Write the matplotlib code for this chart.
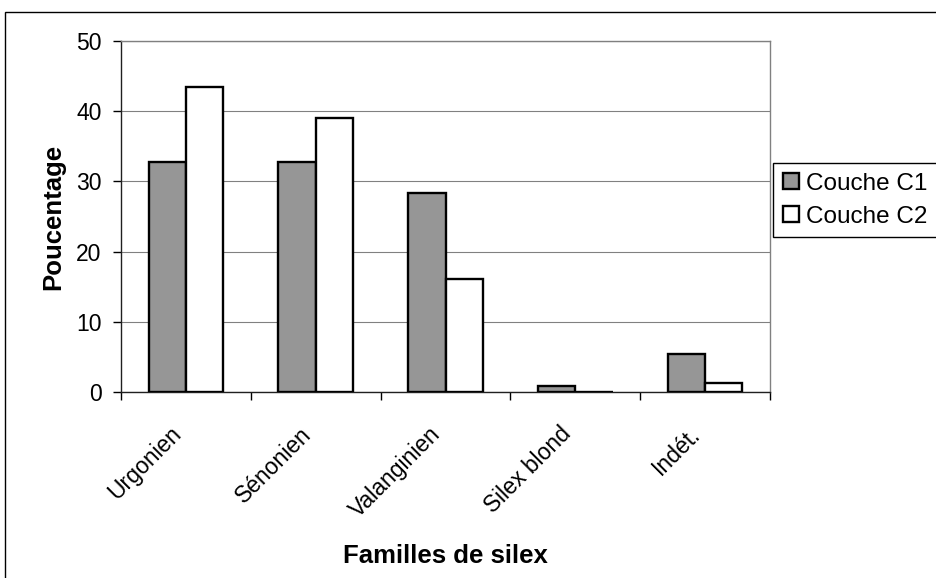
import matplotlib.pyplot as plt
import numpy as np
from matplotlib.patches import Rectangle

plt.rcParams['font.family'] = ['Liberation Sans', 'DejaVu Sans']

categories = ["Urgonien", "Sénonien", "Valanginien", "Silex blond", "Indét."]
couche_c1 = [32.7, 32.7, 28.3, 0.9, 5.4]
couche_c2 = [43.5, 39.1, 16.1, 0.0, 1.3]
series_names = ["Couche C1", "Couche C2"]
y_ticks = [0, 10, 20, 30, 40, 50]

W, H = 936, 578
fig = plt.figure(figsize=(W / 100, H / 100), dpi=100)
ax = fig.add_axes([121 / W, 1 - 392 / H, (770 - 121) / W, (392 - 41) / H])

x = np.arange(len(categories))
bw = 0.288
ax.bar(x - bw / 2, couche_c1, bw, color="#969696", edgecolor="black",
       linewidth=1.7, label=series_names[0], zorder=3)
ax.bar(x + bw / 2, couche_c2, bw, color="white", edgecolor="black",
       linewidth=1.7, label=series_names[1], zorder=3)

ax.set_xlim(-0.5, len(categories) - 0.5)
ax.set_ylim(0, 50)
ax.set_yticks(y_ticks)
ax.yaxis.grid(True, color="#808080", linewidth=0.8, zorder=0)

ax.set_xticks(x)
ax.set_xticklabels(categories, rotation=45, ha="right", va="top",
                   rotation_mode="default", fontsize=16.5)
ax.set_xticks(np.arange(-0.5, len(categories)), minor=True)
ax.tick_params(axis="x", which="major", length=0, pad=22)
ax.tick_params(axis="x", which="minor", length=6, width=1, direction="out")
ax.tick_params(axis="y", length=6, width=1, direction="out", labelsize=16.5, pad=8)

for side in ["left", "bottom"]:
    ax.spines[side].set_color("#202020")
    ax.spines[side].set_linewidth(1)
for side in ["top", "right"]:
    ax.spines[side].set_color("#808080")
    ax.spines[side].set_linewidth(1)

ax.set_ylabel("Poucentage", fontsize=18.5, fontweight="bold", labelpad=8)
fig.text(445 / W, 1 - 556 / H, "Familles de silex", fontsize=18.5,
         fontweight="bold", ha="center", va="center")

fig.legend(loc="upper left", bbox_to_anchor=(773 / W, 1 - 163 / H),
           fontsize=17.5, frameon=True, fancybox=False, edgecolor="black",
           framealpha=1, handlelength=0.65, handleheight=0.65,
           handletextpad=0.3, labelspacing=0.45, borderpad=0.4,
           borderaxespad=0)

fig.patches.append(Rectangle((5 / W, -0.1), 1.1, 1 - 12 / H + 0.1,
                             transform=fig.transFigure, fill=False,
                             edgecolor="black", linewidth=1))

fig.savefig("out.png", dpi=100)
